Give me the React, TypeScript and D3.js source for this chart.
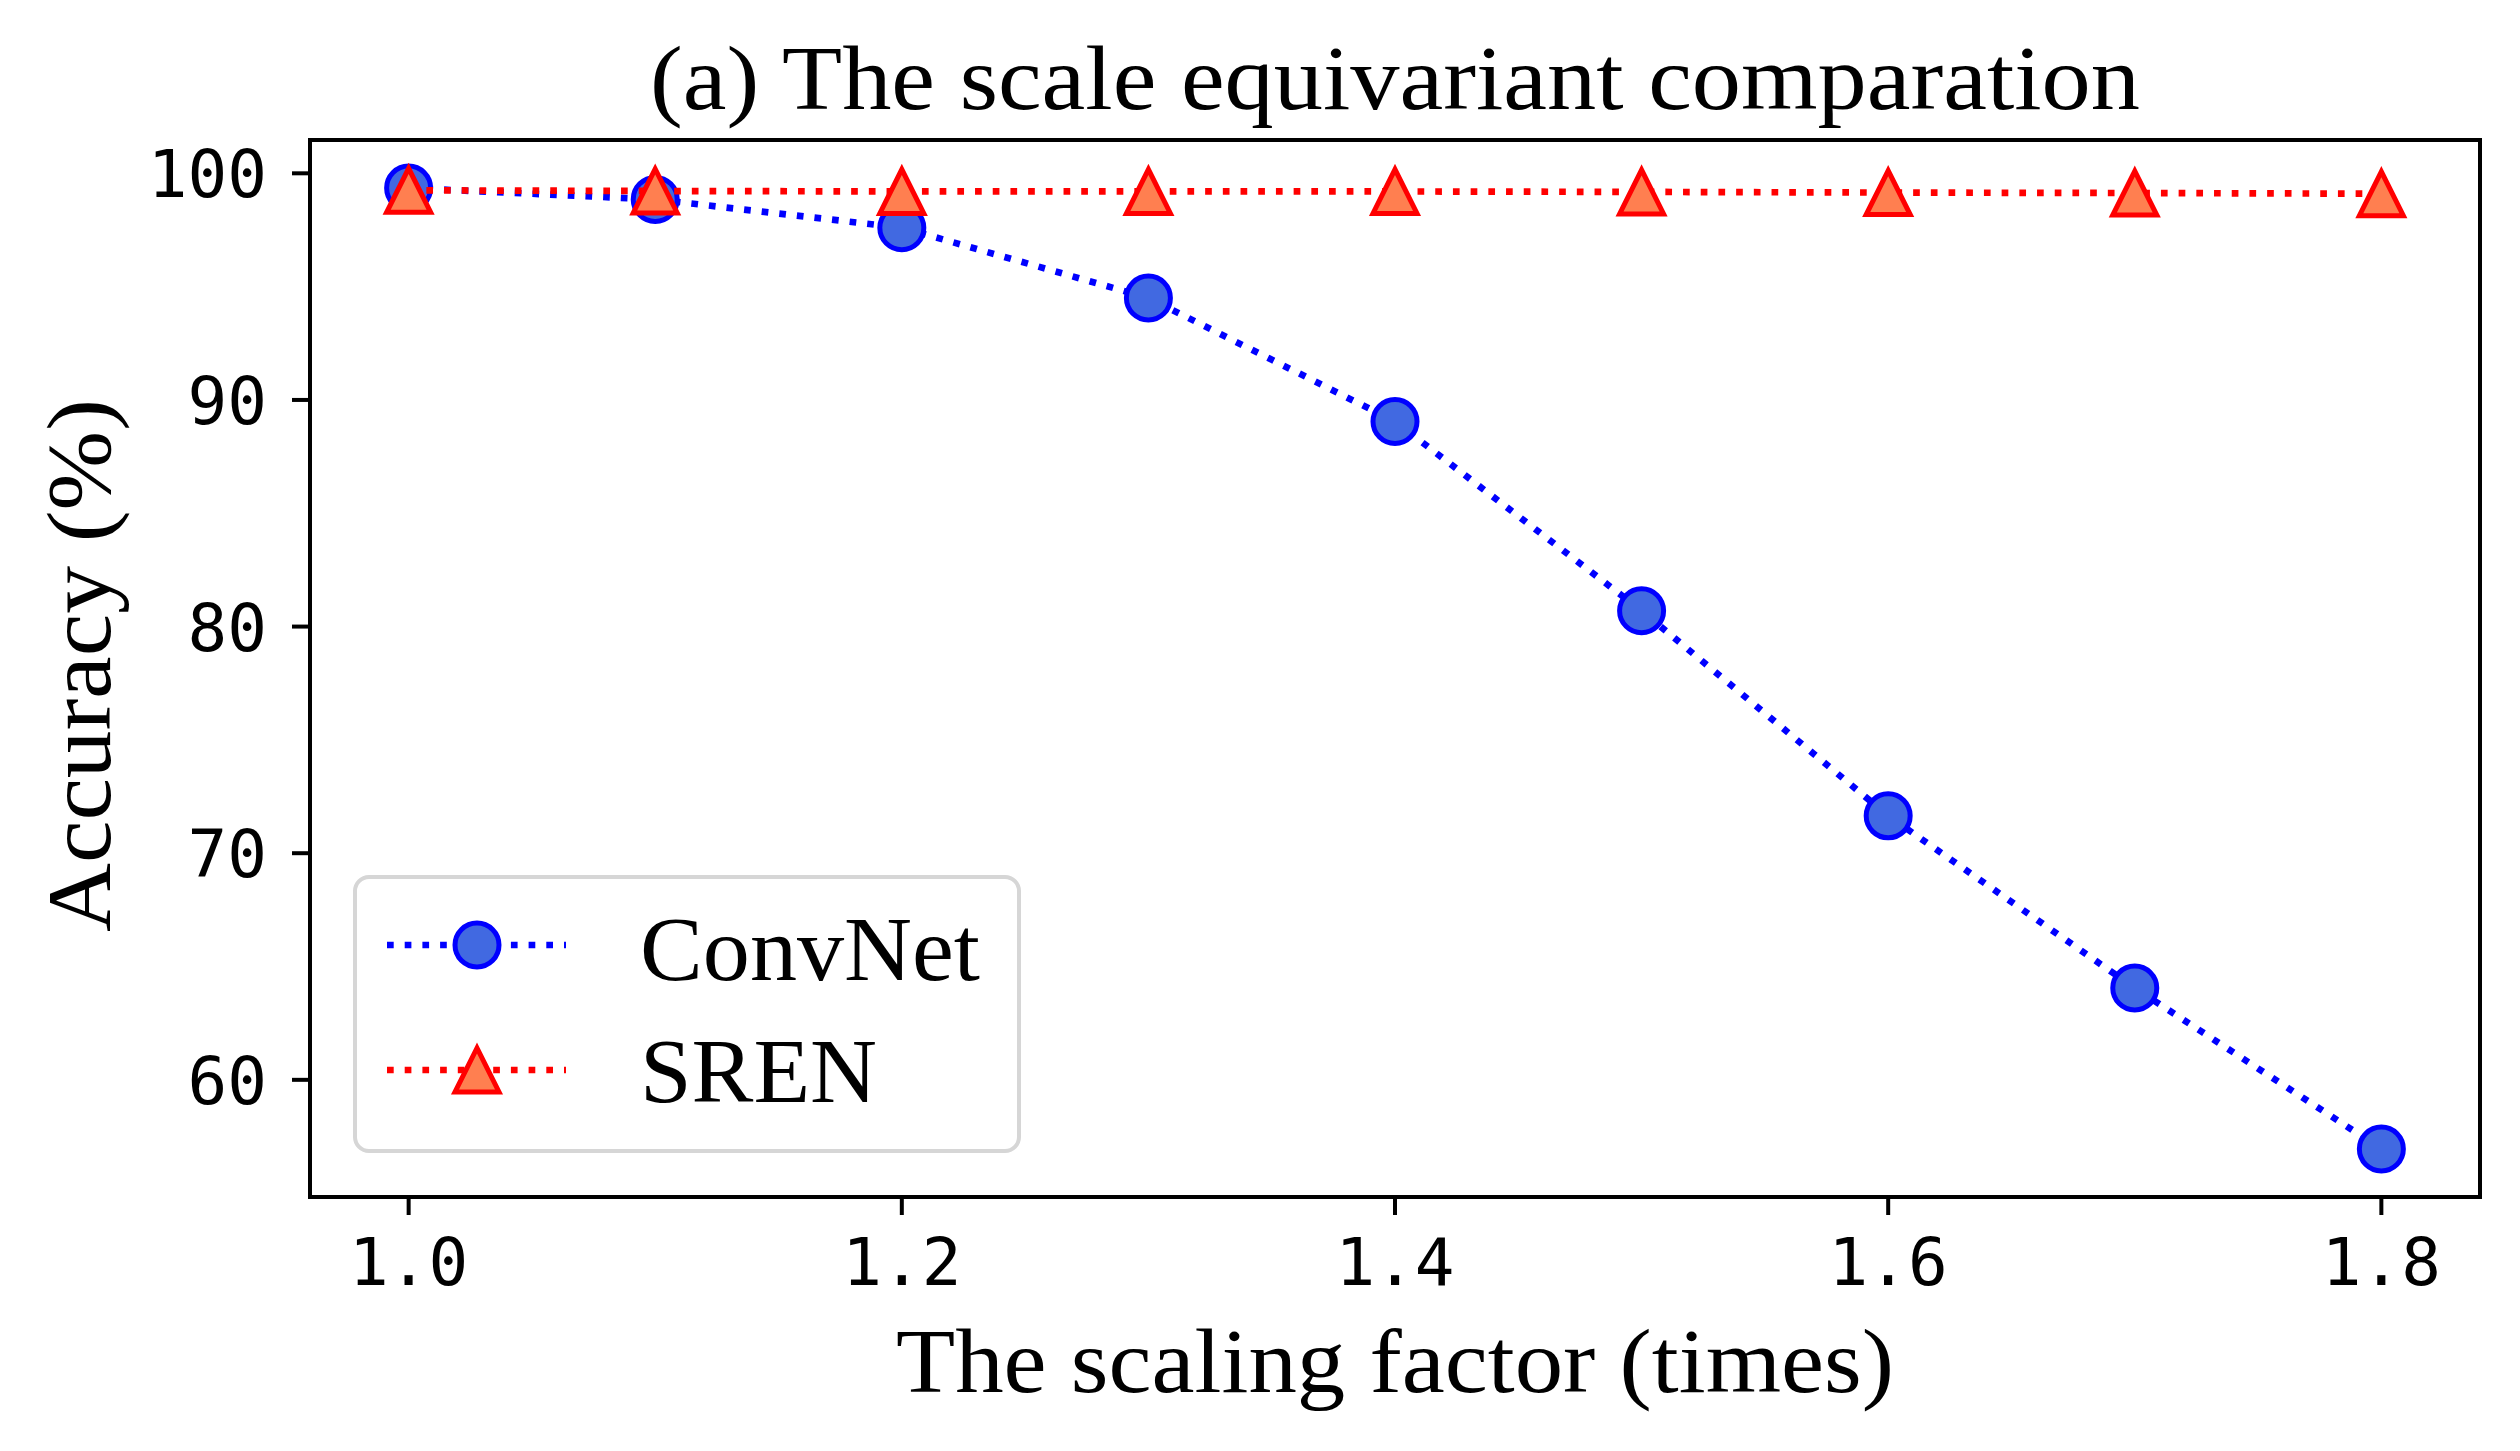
import React from "react";
import * as d3 from "d3";

// scaling factor on x, accuracy (%) on y
const factors = [1.0, 1.1, 1.2, 1.3, 1.4, 1.5, 1.6, 1.7, 1.8];
const convnet = [99.35, 98.85, 97.6, 94.5, 89.05, 80.7, 71.65, 64.05, 56.95];
const sren = [99.25, 99.22, 99.2, 99.2, 99.2, 99.18, 99.15, 99.13, 99.1];
const xTicks = [1.0, 1.2, 1.4, 1.6, 1.8];
const yTicks = [60, 70, 80, 90, 100];
const seriesNames = ["ConvNet", "SREN"];

const W = 2520;
const H = 1451;
const margin = { top: 140, right: 40, bottom: 254, left: 310 };
const serif = "'Liberation Serif', 'Times New Roman', serif";
const mono = "'DejaVu Sans Mono', monospace";

const App = () => {
  const x = d3
    .scaleLinear()
    .domain([0.96, 1.84])
    .range([margin.left, W - margin.right]);

  const all = convnet.concat(sren);
  const lo = d3.min(all) as number;
  const hi = d3.max(all) as number;
  const pad = (hi - lo) * 0.05;
  const y = d3
    .scaleLinear()
    .domain([lo - pad, hi + pad])
    .range([H - margin.bottom, margin.top]);

  const line = d3
    .line<number>()
    .x((d, i) => x(factors[i]))
    .y((d) => y(d));

  const x0 = margin.left;
  const x1 = W - margin.right;
  const y0 = margin.top;
  const y1 = H - margin.bottom;
  const cx = (x0 + x1) / 2;

  const ms = 44; // marker size
  const tri = (px: number, py: number) =>
    `M${px},${py - ms / 2}L${px - ms / 2},${py + ms / 2}L${px + ms / 2},${py + ms / 2}Z`;

  const dash = "6.7 11";

  return (
    <svg width={W} height={H} style={{ position: "absolute", left: 0, top: 0, background: "#fff" }}>
      <rect x={0} y={0} width={W} height={H} fill="#fff" />

      {/* ConvNet */}
      <path d={line(convnet) || ""} fill="none" stroke="#0000ff" strokeWidth={6.7} strokeDasharray={dash} />
      {convnet.map((v, i) => (
        <circle key={"c" + i} cx={x(factors[i])} cy={y(v)} r={ms / 2} fill="#4169e1" stroke="#0000ff" strokeWidth={5} />
      ))}

      {/* SREN */}
      <path d={line(sren) || ""} fill="none" stroke="#ff0000" strokeWidth={6.7} strokeDasharray={dash} />
      {sren.map((v, i) => (
        <path key={"t" + i} d={tri(x(factors[i]), y(v))} fill="#ff7f50" stroke="#ff0000" strokeWidth={5} />
      ))}

      {/* frame */}
      <rect x={x0} y={y0} width={x1 - x0} height={y1 - y0} fill="none" stroke="#000" strokeWidth={4} />

      {/* x ticks */}
      {xTicks.map((t) => (
        <g key={"xt" + t}>
          <line x1={x(t)} x2={x(t)} y1={y1} y2={y1 + 18} stroke="#000" strokeWidth={4} />
          <text x={x(t)} y={1285} textAnchor="middle" fontFamily={mono} fontSize={66}>
            {t.toFixed(1)}
          </text>
        </g>
      ))}

      {/* y ticks */}
      {yTicks.map((t) => (
        <g key={"yt" + t}>
          <line x1={x0 - 18} x2={x0} y1={y(t)} y2={y(t)} stroke="#000" strokeWidth={4} />
          <text x={267} y={y(t) + 24} textAnchor="end" fontFamily={mono} fontSize={66}>
            {t}
          </text>
        </g>
      ))}

      {/* title & labels */}
      <text x={cx} y={109} textAnchor="middle" fontFamily={serif} fontSize={92} textLength={1490} lengthAdjust="spacingAndGlyphs">
        (a) The scale equivariant comparation
      </text>
      <text x={cx} y={1392} textAnchor="middle" fontFamily={serif} fontSize={92} textLength={998} lengthAdjust="spacingAndGlyphs">
        The scaling factor (times)
      </text>
      <text
        transform={`translate(110, ${(y0 + y1) / 2 - 3}) rotate(-90)`}
        textAnchor="middle"
        fontFamily={serif}
        fontSize={92}
        textLength={533}
        lengthAdjust="spacingAndGlyphs"
      >
        Accuracy (%)
      </text>

      {/* legend */}
      <rect x={355} y={877} width={664} height={274} rx={14} fill="#fff" fillOpacity={0.8} stroke="#d6d6d6" strokeWidth={4} />
      <line x1={387} x2={566} y1={945} y2={945} stroke="#0000ff" strokeWidth={6.7} strokeDasharray={dash} />
      <circle cx={477} cy={945} r={ms / 2} fill="#4169e1" stroke="#0000ff" strokeWidth={5} />
      <line x1={387} x2={566} y1={1070} y2={1070} stroke="#ff0000" strokeWidth={6.7} strokeDasharray={dash} />
      <path d={tri(477, 1070)} fill="#ff7f50" stroke="#ff0000" strokeWidth={5} />
      <text x={640} y={980} fontFamily={serif} fontSize={92} textLength={340} lengthAdjust="spacingAndGlyphs">
        {seriesNames[0]}
      </text>
      <text x={640} y={1102} fontFamily={serif} fontSize={92} textLength={237} lengthAdjust="spacingAndGlyphs">
        {seriesNames[1]}
      </text>
    </svg>
  );
};

export default App;
